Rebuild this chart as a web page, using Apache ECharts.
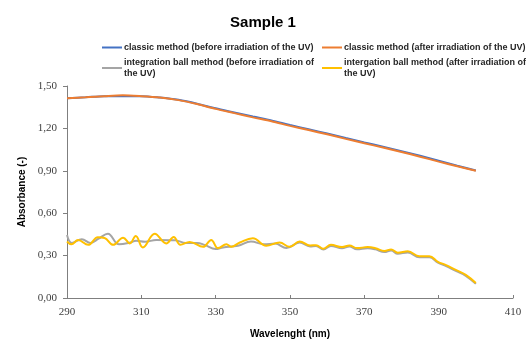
<!DOCTYPE html>
<html>
<head>
<meta charset="utf-8">
<script src="https://cdn.jsdelivr.net/npm/echarts@6/dist/echarts.min.js"></script>
<style>
  html, body { margin: 0; padding: 0; background: #fff; }
  #chart { width: 526px; height: 342px; }
</style>
</head>
<body>
<div id="chart"></div>
<script>
// classic method, sampled every 5 nm
var classicWavelengths = [290, 295, 300, 305, 310, 315, 320, 325, 330, 335, 340, 345, 350, 355, 360, 365, 370, 375, 380, 385, 390, 395, 400];
var classicBefore = [1.413, 1.420, 1.428, 1.428, 1.428, 1.418, 1.402, 1.375, 1.342, 1.313, 1.284, 1.256, 1.224, 1.194, 1.164, 1.132, 1.101, 1.071, 1.039, 1.006, 0.971, 0.936, 0.902];
var classicAfter = [1.413, 1.420, 1.428, 1.434, 1.428, 1.418, 1.400, 1.372, 1.338, 1.308, 1.278, 1.250, 1.218, 1.188, 1.158, 1.126, 1.095, 1.065, 1.033, 1.000, 0.965, 0.932, 0.900];

// integration ball method, read at the turning points of each curve
var ballBeforeWavelengths = [290, 291.3, 294, 296.3, 298.5, 301, 304, 307, 308.6, 311, 314, 319, 322, 325, 327, 330, 332, 336, 339.5, 343, 346, 349, 352.6, 355.4, 357, 359, 361, 364, 366, 368, 370.9, 373, 375.4, 377.2, 379, 381.7, 384.8, 387.5, 389.8, 392, 394.6, 397.3, 400];
var ballBefore = [0.446, 0.390, 0.416, 0.390, 0.420, 0.455, 0.380, 0.392, 0.405, 0.398, 0.410, 0.408, 0.390, 0.390, 0.376, 0.346, 0.358, 0.370, 0.400, 0.380, 0.385, 0.353, 0.392, 0.365, 0.368, 0.343, 0.368, 0.352, 0.364, 0.345, 0.352, 0.344, 0.325, 0.336, 0.313, 0.322, 0.288, 0.288, 0.250, 0.226, 0.192, 0.157, 0.100];

var ballAfterWavelengths = [290, 291.2, 293, 295.7, 298.3, 300.1, 302.4, 305.1, 306.9, 308.5, 310.4, 313.6, 316.7, 318.7, 320.5, 323, 326.6, 328.8, 330.6, 332.9, 334.2, 336.5, 340, 343.6, 347.2, 349.9, 352.6, 355.4, 357, 359, 361, 364, 366, 368, 370.9, 373, 375.4, 377.2, 379, 381.7, 384.8, 387.5, 389.8, 392, 394.6, 397.3, 400];
var ballAfter = [0.400, 0.380, 0.410, 0.376, 0.430, 0.425, 0.376, 0.427, 0.386, 0.439, 0.358, 0.455, 0.386, 0.432, 0.376, 0.397, 0.362, 0.411, 0.353, 0.380, 0.362, 0.393, 0.423, 0.370, 0.393, 0.362, 0.400, 0.372, 0.374, 0.349, 0.376, 0.360, 0.372, 0.353, 0.360, 0.352, 0.333, 0.344, 0.321, 0.330, 0.296, 0.296, 0.256, 0.233, 0.199, 0.164, 0.106];

var seriesNames = [
  'classic method (before irradiation of the UV)',
  'classic method (after irradiation of the UV)',
  'integration ball method (before irradiation of the UV)',
  'intergation ball method (after irradiation of the UV)'
];
var seriesColors = ['#4472C4', '#ED7D31', '#A5A5A5', '#FFC000'];

function pairs(xs, ys) {
  return xs.map(function (x, i) { return [x, ys[i]]; });
}

var lineData = [
  pairs(classicWavelengths, classicBefore),
  pairs(classicWavelengths, classicAfter),
  pairs(ballBeforeWavelengths, ballBefore),
  pairs(ballAfterWavelengths, ballAfter)
];

// one legend per entry, laid out in two columns
var legendSpots = [[102, 42], [322, 42], [102, 57], [322, 57]];
var legends = seriesNames.map(function (name, i) {
  return {
    left: legendSpots[i][0],
    top: legendSpots[i][1],
    padding: 0,
    itemWidth: 20,
    itemHeight: 2,
    icon: 'rect',
    data: [name],
    textStyle: {
      fontFamily: 'Liberation Sans',
      fontSize: 9,
      fontWeight: 'bold',
      color: '#262626',
      lineHeight: 11,
      width: 196,
      overflow: 'break',
      padding: [0, 0, 0, -3]
    }
  };
});

var chart = echarts.init(document.getElementById('chart'));
chart.setOption({
  animation: false,
  color: seriesColors,
  title: {
    text: 'Sample 1',
    left: 'center',
    top: 10,
    textStyle: { fontFamily: 'Liberation Sans', fontSize: 15, fontWeight: 'bold', color: '#000' }
  },
  legend: legends,
  grid: { left: 67, right: 13, top: 86, bottom: 44, outerBoundsMode: 'none', containLabel: false },
  xAxis: {
    type: 'value',
    min: 290,
    max: 410,
    interval: 20,
    name: 'Wavelenght (nm)',
    nameLocation: 'middle',
    nameGap: 31,
    nameTextStyle: { fontFamily: 'Liberation Sans', fontSize: 10, fontWeight: 'bold', color: '#000' },
    axisLine: { lineStyle: { color: '#7f7f7f', width: 1 } },
    axisTick: { inside: true, length: 3, lineStyle: { color: '#7f7f7f' } },
    axisLabel: { fontFamily: 'Liberation Serif', fontSize: 11, color: '#404040', margin: 9 },
    splitLine: { show: false }
  },
  yAxis: {
    type: 'value',
    min: 0,
    max: 1.5,
    interval: 0.3,
    name: 'Absorbance (-)',
    nameLocation: 'middle',
    nameGap: 40,
    nameTextStyle: { fontFamily: 'Liberation Sans', fontSize: 10, fontWeight: 'bold', color: '#000' },
    axisLine: { show: true, lineStyle: { color: '#7f7f7f', width: 1 } },
    axisTick: { show: true, length: 4, lineStyle: { color: '#7f7f7f' } },
    axisLabel: {
      fontFamily: 'Liberation Serif',
      fontSize: 11,
      color: '#404040',
      margin: 10,
      formatter: function (v) { return v.toFixed(2).replace('.', ','); }
    },
    splitLine: { show: false }
  },
  series: seriesNames.map(function (name, i) {
    return {
      name: name,
      type: 'line',
      data: lineData[i],
      smooth: i < 2 ? 0.3 : 0.4,
      showSymbol: false,
      symbol: 'none',
      lineStyle: { width: 2, color: seriesColors[i] }
    };
  })
});
</script>
</body>
</html>
